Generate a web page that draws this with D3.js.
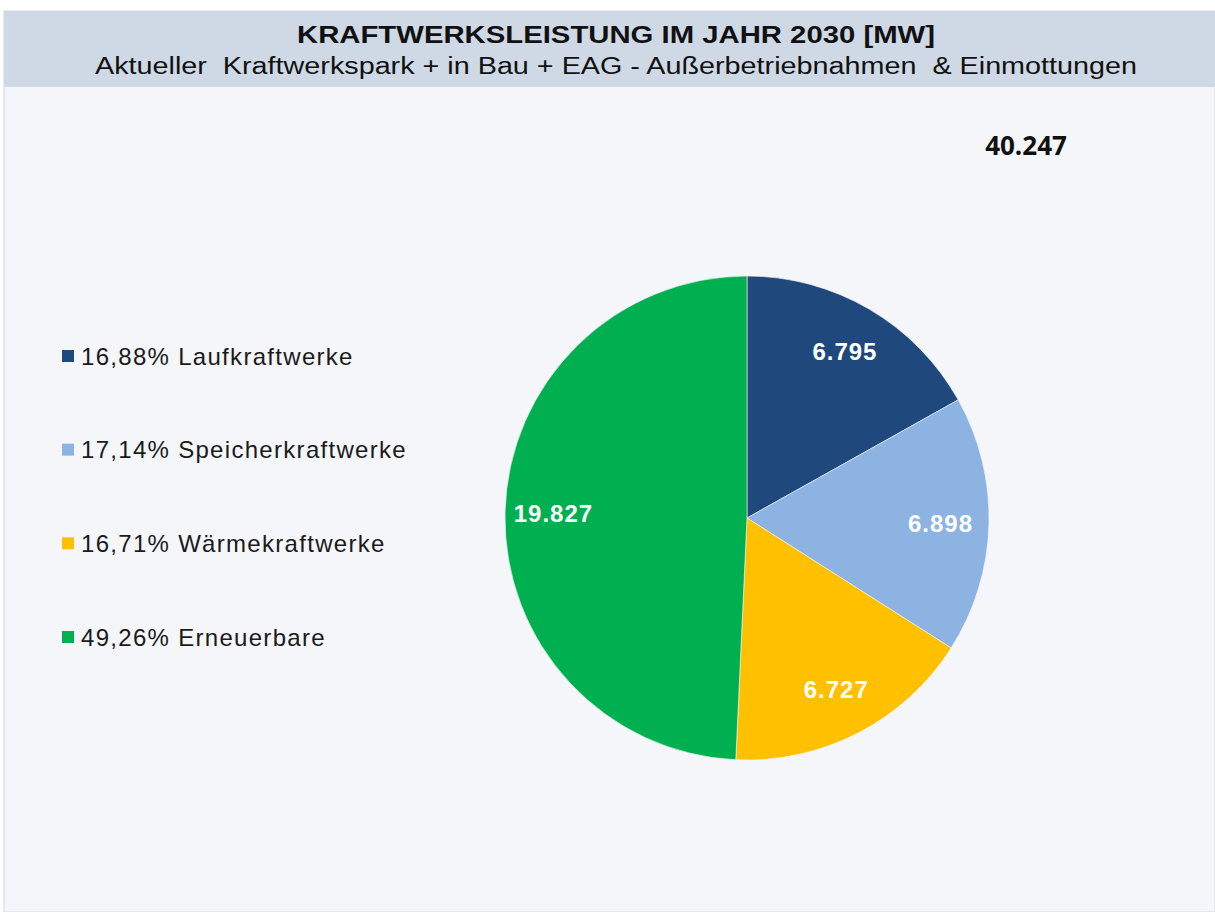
<!DOCTYPE html>
<html>
<head>
<meta charset="utf-8">
<script src="https://cdn.jsdelivr.net/npm/d3@7"></script>
<style>
  body { margin: 0; background: #ffffff; }
  svg { display: block; }
</style>
</head>
<body>
<div id="chart"></div>
<script>
// data
var categories = ["Laufkraftwerke", "Speicherkraftwerke", "Wärmekraftwerke", "Erneuerbare"];
var values = [6795, 6898, 6727, 19827];
var shares = ["16,88%", "17,14%", "16,71%", "49,26%"];
var colors = ["#1f497d", "#8db3e2", "#ffc000", "#00b050"];
var totalLabel = "40.247";
var title = "KRAFTWERKSLEISTUNG IM JAHR 2030 [MW]";
var subtitle = "Aktueller  Kraftwerkspark + in Bau + EAG - Außerbetriebnahmen  & Einmottungen";

var width = 1215,
    height = 912;

var fmt = d3.formatLocale({decimal: ",", thousands: ".", grouping: [3], currency: ["", ""]}).format(",d");

var svg = d3.select("#chart").append("svg")
    .attr("width", width)
    .attr("height", height);

// panel
svg.append("rect")
    .attr("x", 4).attr("y", 11)
    .attr("width", width - 4).attr("height", height - 11)
    .attr("fill", "#f5f6fa")
    .attr("stroke", "#d3d8e0")
    .attr("stroke-width", 1);

// header band
svg.append("rect")
    .attr("x", 4).attr("y", 11)
    .attr("width", width - 4).attr("height", 76)
    .attr("fill", "#cfd9e5");

svg.append("text")
    .attr("x", 616).attr("y", 43)
    .attr("text-anchor", "middle")
    .attr("font-family", "Liberation Sans, Arial, sans-serif")
    .attr("font-weight", "bold")
    .attr("font-size", 23)
    .attr("textLength", 638)
    .attr("lengthAdjust", "spacingAndGlyphs")
    .attr("fill", "#111")
    .text(title);

svg.append("text")
    .attr("x", 616).attr("y", 74)
    .attr("text-anchor", "middle")
    .attr("font-family", "Liberation Sans, Arial, sans-serif")
    .attr("font-size", 23)
    .attr("textLength", 1042)
    .attr("lengthAdjust", "spacingAndGlyphs")
    .attr("fill", "#111")
    .style("white-space", "pre")
    .text(subtitle);

// pie
var cx = 747, cy = 518, radius = 242;

var pie = d3.pie().sort(null).value(function(d) { return d; });
var arc = d3.arc().innerRadius(0).outerRadius(radius);
var labelArc = d3.arc().innerRadius(radius * 0.8).outerRadius(radius * 0.8);

var arcs = pie(values);

var g = svg.append("g").attr("transform", "translate(" + cx + "," + cy + ")");

g.selectAll("path")
    .data(arcs)
    .enter()
    .append("path")
    .attr("d", arc)
    .attr("fill", function(d, i) { return colors[i]; })
    .attr("stroke", "#f5f6fa")
    .attr("stroke-width", 0.6);

g.selectAll("text.val")
    .data(arcs)
    .enter()
    .append("text")
    .attr("class", "val")
    .attr("transform", function(d) {
        var c = labelArc.centroid(d);
        return "translate(" + c[0] + "," + c[1] + ")";
    })
    .attr("dy", "0.36em")
    .attr("text-anchor", "middle")
    .attr("font-family", "Liberation Sans, Arial, sans-serif")
    .attr("font-weight", "bold")
    .attr("font-size", 24)
    .attr("letter-spacing", 1)
    .attr("fill", "#ffffff")
    .text(function(d) { return fmt(d.value); });

// total
svg.append("text")
    .attr("x", 1026).attr("y", 155)
    .attr("text-anchor", "middle")
    .attr("font-family", "Open Sans, sans-serif")
    .attr("font-weight", "bold")
    .attr("font-size", 26)
    .attr("fill", "#111")
    .text(totalLabel);

// legend
var legendY = d3.scalePoint()
    .domain(categories)
    .range([356, 637]);

var legend = svg.selectAll("g.leg")
    .data(categories)
    .enter()
    .append("g")
    .attr("class", "leg")
    .attr("transform", function(d) { return "translate(62," + legendY(d) + ")"; });

legend.append("rect")
    .attr("x", 0).attr("y", -6)
    .attr("width", 12).attr("height", 12)
    .attr("fill", function(d, i) { return colors[i]; });

legend.append("text")
    .attr("x", 19)
    .attr("dy", "0.36em")
    .attr("font-family", "Liberation Sans, Arial, sans-serif")
    .attr("font-size", 24)
    .attr("letter-spacing", 1.3)
    .attr("fill", "#1a1a1a")
    .text(function(d, i) { return shares[i] + " " + d; });
</script>
</body>
</html>
